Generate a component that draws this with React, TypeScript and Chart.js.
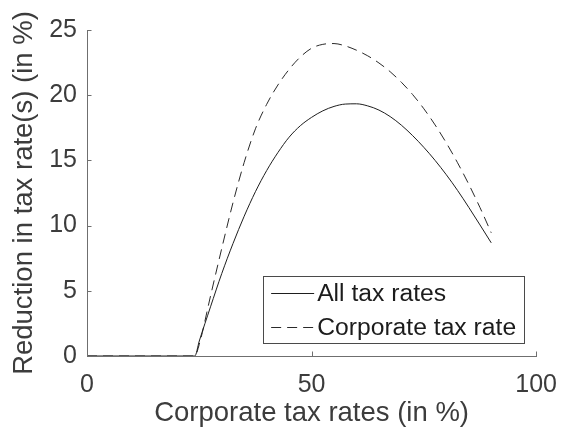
import React, { useEffect, useRef } from "react";
import { Chart, registerables } from "chart.js";

Chart.register(...registerables);

// Corporate tax rate grid (in %)
const corporateRates = [
  0, 24, 25, 27.5, 30, 32.5, 35, 37.5, 40, 42.5, 45, 47.5, 50, 52.5, 55, 57.5,
  60, 62.5, 65, 67.5, 70, 72.5, 75, 77.5, 80, 82.5, 85, 87.5, 90,
];

// Reduction when all tax rates adjust (in %)
const allTaxRates = [
  0, 0, 1.15, 3.77, 6.32, 8.62, 10.72, 12.6, 14.22, 15.6, 16.78, 17.66, 18.3,
  18.8, 19.14, 19.32, 19.34, 19.18, 18.86, 18.36, 17.7, 16.9, 16.0, 15.0,
  13.9, 12.7, 11.4, 10.05, 8.68,
];

// Reduction when only the corporate tax rate adjusts (in %)
const corporateTaxRate = [
  0, 0, 0.9, 4.6, 8.25, 11.75, 14.85, 17.42, 19.3, 20.78, 21.98, 22.93, 23.6,
  23.9, 23.96, 23.78, 23.45, 23.02, 22.47, 21.8, 20.99, 20.05, 18.96, 17.72,
  16.34, 14.82, 13.17, 11.38, 9.45,
];

const seriesLabels = ["All tax rates", "Corporate tax rate"];
const xTicks = [0, 50, 100];
const yTicks = [0, 5, 10, 15, 20, 25];

const FONT = "'Liberation Sans', Arial, Helvetica, sans-serif";
const AXIS_COLOR = "#6f6f6f";
const TEXT_COLOR = "#3c3c3c";

const toPoints = (xs: number[], ys: number[]) =>
  xs.map((x, i) => ({ x, y: ys[i] }));

// Inward tick marks on both axes
const innerTicks = {
  id: "innerTicks",
  afterDraw(chart: any) {
    const { ctx, chartArea } = chart;
    const xs = chart.scales.x;
    const ys = chart.scales.y;
    const len = 4.5;
    ctx.save();
    ctx.strokeStyle = AXIS_COLOR;
    ctx.lineWidth = 1;
    ctx.beginPath();
    xs.ticks.forEach((t: any) => {
      const px = Math.round(xs.getPixelForValue(t.value)) + 0.5;
      ctx.moveTo(px, chartArea.bottom);
      ctx.lineTo(px, chartArea.bottom - len);
    });
    ys.ticks.forEach((t: any) => {
      const py = Math.round(ys.getPixelForValue(t.value)) + 0.5;
      ctx.moveTo(chartArea.left, py);
      ctx.lineTo(chartArea.left + len, py);
    });
    ctx.stroke();
    ctx.restore();
  },
};

// Boxed legend in the lower right of the plot area
const boxLegend = {
  id: "boxLegend",
  afterDraw(chart: any) {
    const { ctx, chartArea } = chart;
    const w = 261;
    const h = 67;
    const right = chartArea.right - 12;
    const bottom = chartArea.bottom - 13;
    const left = right - w;
    const top = bottom - h;
    ctx.save();
    ctx.fillStyle = "#ffffff";
    ctx.fillRect(left, top, w, h);
    ctx.strokeStyle = "#4a4a4a";
    ctx.lineWidth = 1;
    ctx.strokeRect(Math.round(left) + 0.5, Math.round(top) + 0.5, w, h);
    const rows = [top + 17, top + 51];
    chart.data.datasets.forEach((ds: any, i: number) => {
      const y = Math.round(rows[i]) + 0.5;
      ctx.beginPath();
      ctx.strokeStyle = ds.borderColor;
      ctx.lineWidth = ds.borderWidth;
      ctx.setLineDash(ds.borderDash || []);
      ctx.moveTo(left + 8, y);
      ctx.lineTo(left + 51, y);
      ctx.stroke();
      ctx.setLineDash([]);
      ctx.fillStyle = "#1c1c1c";
      ctx.font = `24.7px ${FONT}`;
      ctx.textAlign = "left";
      ctx.textBaseline = "middle";
      ctx.fillText(ds.label, left + 54, rows[i] + 1);
    });
    ctx.restore();
  },
};

export default function App() {
  const canvasRef = useRef<HTMLCanvasElement | null>(null);

  useEffect(() => {
    if (!canvasRef.current) return;
    const chart = new Chart(canvasRef.current, {
      type: "line",
      data: {
        datasets: [
          {
            label: seriesLabels[0],
            data: toPoints(corporateRates, allTaxRates),
            borderColor: "#1e1e1e",
            borderWidth: 1,
            pointRadius: 0,
            cubicInterpolationMode: "monotone",
            fill: false,
          },
          {
            label: seriesLabels[1],
            data: toPoints(corporateRates, corporateTaxRate),
            borderColor: "#2a2a2a",
            borderWidth: 1,
            borderDash: [10, 6],
            pointRadius: 0,
            cubicInterpolationMode: "monotone",
            fill: false,
          },
        ],
      },
      options: {
        animation: false,
        responsive: false,
        devicePixelRatio: 1,
        layout: { padding: { top: 30, right: 34, left: 0, bottom: 0 } },
        plugins: {
          legend: { display: false },
          tooltip: { enabled: false },
        },
        scales: {
          x: {
            type: "linear",
            min: 0,
            max: 100,
            afterBuildTicks: (scale: any) => {
              scale.ticks = xTicks.map((v) => ({ value: v }));
            },
            afterFit: (scale: any) => {
              scale.height = 79;
            },
            grid: { display: false, drawTicks: false },
            border: { display: true, color: AXIS_COLOR, width: 1 },
            ticks: {
              padding: 14,
              color: TEXT_COLOR,
              font: { family: FONT, size: 25 },
              maxRotation: 0,
            },
            title: {
              display: true,
              text: "Corporate tax rates (in %)",
              color: TEXT_COLOR,
              font: { family: FONT, size: 27.5 },
              padding: { top: 0, bottom: 5 },
            },
          },
          y: {
            type: "linear",
            min: 0,
            max: 25,
            afterBuildTicks: (scale: any) => {
              scale.ticks = yTicks.map((v) => ({ value: v }));
            },
            afterFit: (scale: any) => {
              scale.width = 87;
            },
            grid: { display: false, drawTicks: false },
            border: { display: true, color: AXIS_COLOR, width: 1 },
            ticks: {
              padding: 10,
              color: TEXT_COLOR,
              font: { family: FONT, size: 25 },
            },
            title: {
              display: true,
              text: "Reduction in tax rate(s) (in %)",
              color: TEXT_COLOR,
              font: { family: FONT, size: 27.5 },
              padding: { top: 8, bottom: 0 },
            },
          },
        },
      },
      plugins: [innerTicks, boxLegend],
    });
    return () => chart.destroy();
  }, []);

  return (
    <div style={{ position: "absolute", left: 0, top: 0, width: 571, height: 435, background: "#ffffff" }}>
      <canvas ref={canvasRef} width={571} height={435} />
    </div>
  );
}
